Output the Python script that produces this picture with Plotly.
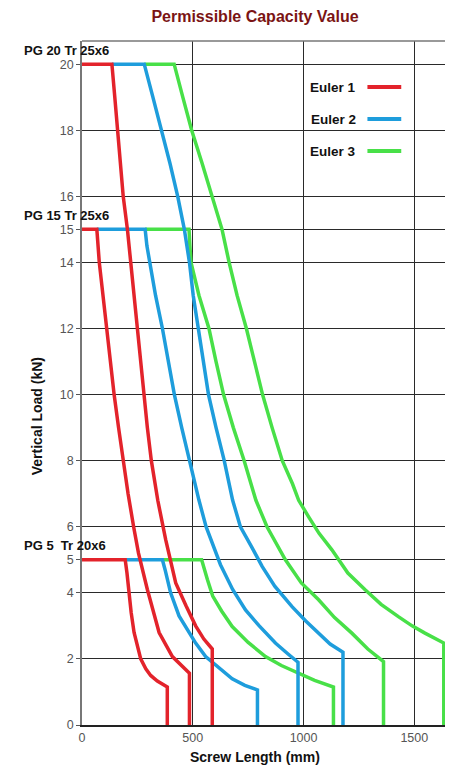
import plotly.graph_objects as go

# screw length (mm) / vertical load (kN)
pg20_e1_x = [0, 135, 148, 160, 173, 186, 205, 220, 233, 247, 262, 278, 295, 313, 342, 378, 423, 470, 513, 550, 588, 588]
pg20_e1_y = [20, 20, 19, 18, 17, 16, 15, 14, 13, 12, 11, 10, 9, 8, 6.8, 5.6, 4.3, 3.6, 3.0, 2.6, 2.3, 0]
pg20_e2_x = [135, 281, 320, 360, 397, 432, 462, 485, 502, 525, 548, 571, 605, 642, 680, 715, 765, 813, 870, 948, 1010, 1068, 1120, 1178, 1178]
pg20_e2_y = [20, 20, 19, 18, 17, 16, 15, 14, 13, 12, 11, 10, 9, 8, 6.8, 6.0, 5.4, 4.8, 4.2, 3.58, 3.15, 2.78, 2.45, 2.2, 0]
pg20_e3_x = [281, 416, 455, 495, 542, 588, 632, 664, 700, 742, 778, 815, 858, 904, 950, 978, 1023, 1070, 1128, 1200, 1278, 1350, 1428, 1490, 1548, 1633, 1633]
pg20_e3_y = [20, 20, 19, 18, 17, 16, 15, 14, 13, 12, 11, 10, 9, 8, 7.3, 6.8, 6.3, 5.8, 5.3, 4.6, 4.09, 3.65, 3.28, 3.0, 2.78, 2.48, 0]

pg15_e1_x = [0, 67, 78, 94, 111, 128, 145, 165, 186, 208, 233, 255, 295, 348, 408, 450, 485, 485]
pg15_e1_y = [15, 15, 14, 13, 12, 11, 10, 9, 8, 7, 6, 5.2, 4.1, 2.8, 2.07, 1.8, 1.57, 0]
pg15_e2_x = [67, 285, 293, 306, 332, 363, 390, 417, 450, 485, 528, 560, 625, 680, 738, 800, 873, 930, 975, 975]
pg15_e2_y = [15, 15, 14.5, 14, 13, 12, 11, 10, 9, 8, 6.8, 6.0, 4.85, 4.1, 3.48, 3.0, 2.48, 2.15, 1.9, 0]
pg15_e3_x = [285, 483, 487, 492, 528, 573, 605, 639, 683, 732, 785, 835, 918, 990, 1068, 1140, 1218, 1290, 1361, 1361]
pg15_e3_y = [15, 15, 14.5, 14, 13, 12, 11, 10, 9, 8, 6.8, 6.0, 5.0, 4.3, 3.79, 3.25, 2.78, 2.3, 1.92, 0]

pg5_e1_x = [0, 195, 203, 212, 222, 235, 250, 265, 288, 310, 340, 385, 385]
pg5_e1_y = [5, 5, 4.6, 4.0, 3.4, 2.8, 2.37, 2.0, 1.7, 1.5, 1.33, 1.15, 0]
pg5_e2_x = [195, 363, 375, 385, 400, 438, 470, 513, 558, 610, 678, 735, 792, 792]
pg5_e2_y = [5, 5, 4.7, 4.4, 4.0, 3.3, 2.95, 2.48, 2.07, 1.77, 1.4, 1.2, 1.06, 0]
pg5_e3_x = [363, 540, 566, 590, 630, 678, 750, 828, 900, 978, 1050, 1135, 1135]
pg5_e3_y = [5, 5, 4.4, 3.9, 3.45, 2.98, 2.5, 2.07, 1.8, 1.57, 1.35, 1.15, 0]

series_names = ["Euler 1", "Euler 2", "Euler 3"]
colors = ["#e3232b", "#1e9ddc", "#48e048"]
group_labels = ["PG 20 Tr 25x6", "PG 15 Tr 25x6", "PG 5\u00a0 Tr 20x6"]
group_loads = [20, 15, 5]
x_ticks = [0, 500, 1000, 1500]
y_ticks = [0, 2, 4, 5, 6, 8, 10, 12, 14, 15, 16, 18, 20]

curves = {
    "Euler 3": [(pg20_e3_x, pg20_e3_y), (pg15_e3_x, pg15_e3_y), (pg5_e3_x, pg5_e3_y)],
    "Euler 2": [(pg20_e2_x, pg20_e2_y), (pg15_e2_x, pg15_e2_y), (pg5_e2_x, pg5_e2_y)],
    "Euler 1": [(pg20_e1_x, pg20_e1_y), (pg15_e1_x, pg15_e1_y), (pg5_e1_x, pg5_e1_y)],
}

FONT = "Liberation Sans, Arial, sans-serif"
# page body has an 8px margin, so the figure is a bit smaller and shifted
OFF = 8
W, H = 453 - OFF, 771 - OFF
PL, PR, PT, PB = 82, 448, 41, 725   # plot area on the page, px
L, R, T, B = PL - OFF, W - (PR - OFF), PT - OFF, H - (PB - OFF)


def px_x(p):
    return (p - PL) / (PR - PL)


def px_y(p):
    return (PB - p) / (PB - PT)


fig = go.Figure()
for name in ["Euler 3", "Euler 2", "Euler 1"]:
    c = colors[series_names.index(name)]
    for xs, ys in curves[name]:
        fig.add_trace(go.Scatter(x=xs, y=ys, mode="lines", line=dict(color=c, width=3.5),
                                 showlegend=False, hoverinfo="skip"))

annotations = []
shapes = []
# group labels above their plateau
for lab, load in zip(group_labels, group_loads):
    annotations.append(dict(text="<b>%s</b>" % lab, xref="paper", yref="y", x=px_x(22), y=load,
                            xanchor="left", yanchor="middle", yshift=14, showarrow=False,
                            font=dict(family=FONT, size=13, color="#111")))

# legend drawn by hand (text left, line sample right)
for i, name in enumerate(series_names):
    yy = px_y(87 + 32 * i)
    annotations.append(dict(text="<b>%s</b>" % name, xref="paper", yref="paper", x=px_x(360), y=yy,
                            xanchor="right", yanchor="middle", showarrow=False,
                            font=dict(family=FONT, size=13.5, color="#111")))
    shapes.append(dict(type="line", xref="paper", yref="paper", x0=px_x(369), x1=px_x(403), y0=yy, y1=yy,
                       line=dict(color=colors[i], width=4)))

annotations.append(dict(text="<b>Vertical Load (kN)</b>", xref="paper", yref="paper", x=px_x(37), y=px_y(416),
                        textangle=-90, showarrow=False, xanchor="center", yanchor="middle",
                        font=dict(family=FONT, size=14, color="#111")))
annotations.append(dict(text="<b>Screw Length (mm)</b>", xref="paper", yref="paper", x=px_x(256), y=px_y(757),
                        showarrow=False, xanchor="center", yanchor="middle",
                        font=dict(family=FONT, size=14, color="#111")))

# top frame
shapes.append(dict(type="line", xref="paper", yref="paper", x0=0, x1=1, y0=1, y1=1,
                   line=dict(color="#777", width=1.5)))

fig.update_layout(
    width=W, height=H,
    margin=dict(l=L, r=R, t=T, b=B),
    plot_bgcolor="white", paper_bgcolor="white",
    title=dict(text="<b>Permissible Capacity Value</b>", x=(255 - OFF) / W, xanchor="center",
               y=1 - (16 - OFF) / H, yanchor="middle", font=dict(family=FONT, size=16, color="#7b1414")),
    annotations=annotations, shapes=shapes,
    xaxis=dict(range=[0, 1643], tickvals=x_ticks, showgrid=True, gridcolor="#2a2a2a", gridwidth=1.2,
               zeroline=False, showline=True, linecolor="#222", linewidth=2,
               tickfont=dict(family=FONT, size=12.5, color="#555"), ticks=""),
    yaxis=dict(range=[0, 20.7], tickvals=y_ticks, showgrid=True, gridcolor="#2a2a2a", gridwidth=1.2,
               zeroline=False, showline=True, linecolor="#777", linewidth=1.5, mirror=True,
               ticks="outside", ticklen=4, tickcolor="#555",
               tickfont=dict(family=FONT, size=12.5, color="#555")),
)

fig.write_html("out.html")
